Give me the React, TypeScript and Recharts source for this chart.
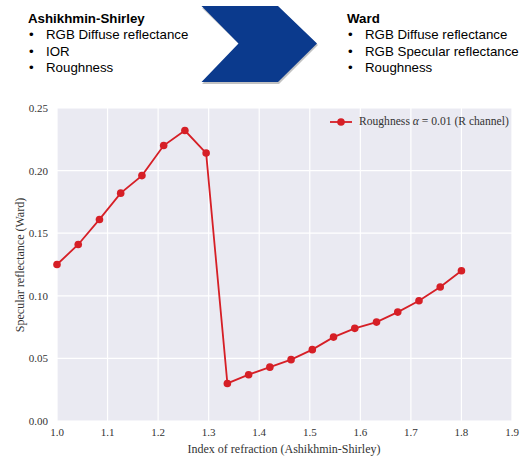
import { LineChart, Line, XAxis, YAxis, CartesianGrid, Label } from 'recharts';

const ior = [
	1.0, 1.042, 1.084, 1.126, 1.168, 1.211, 1.253, 1.295, 1.337, 1.379,
	1.421, 1.463, 1.505, 1.547, 1.589, 1.632, 1.674, 1.716, 1.758, 1.8,
];
const specular = [
	0.125, 0.141, 0.161, 0.182, 0.196, 0.22, 0.232, 0.214, 0.03, 0.037,
	0.043, 0.049, 0.057, 0.067, 0.074, 0.079, 0.087, 0.096, 0.107, 0.12,
];
const xTicks = [1.0, 1.1, 1.2, 1.3, 1.4, 1.5, 1.6, 1.7, 1.8, 1.9];
const yTicks = [0, 0.05, 0.1, 0.15, 0.2, 0.25];

const leftTitle = 'Ashikhmin-Shirley';
const leftItems = ['RGB Diffuse reflectance', 'IOR', 'Roughness'];
const rightTitle = 'Ward';
const rightItems = ['RGB Diffuse reflectance', 'RGB Specular reflectance', 'Roughness'];

const RED = '#d61f26';
const SERIF = '"Liberation Serif", serif';
const SANS = '"Liberation Sans", Arial, sans-serif';

const data = ior.map((x, i) => ({ x, y: specular[i] }));

function TextBlock({ left, title, items }: { left: number; title: string; items: string[] }) {
	const lineH = 16.3;
	return (
		<div style={{ position: 'absolute', left, top: 11, fontFamily: SANS, fontSize: 13.3, lineHeight: `${lineH}px`, color: '#000' }}>
			<div style={{ fontWeight: 'bold' }}>{title}</div>
			{items.map((t) => (
				<div key={t} style={{ position: 'relative', paddingLeft: 18 }}>
					<span style={{ position: 'absolute', left: 1 }}>•</span>
					{t}
				</div>
			))}
		</div>
	);
}

function LegendBox() {
	return (
		<div
			style={{
				position: 'absolute',
				left: 329,
				top: 115,
				display: 'flex',
				alignItems: 'center',
				fontFamily: SERIF,
				fontSize: 11.6,
				color: '#333',
				whiteSpace: 'nowrap',
			}}
		>
			<svg width={24} height={10} style={{ marginRight: 6 }}>
				<line x1={1} y1={5} x2={23} y2={5} stroke={RED} strokeWidth={1.8} />
				<circle cx={12} cy={5} r={3.8} fill={RED} />
			</svg>
			<span>
				Roughness <i>α</i> = 0.01 (R channel)
			</span>
		</div>
	);
}

export default function App() {
	return (
		<div style={{ position: 'absolute', left: 0, top: 0, width: 521, height: 459, background: '#fff' }}>
			<TextBlock left={28} title={leftTitle} items={leftItems} />
			<TextBlock left={347} title={rightTitle} items={rightItems} />
			<svg width={521} height={90} style={{ position: 'absolute', left: 0, top: 0 }}>
				<polygon points="202,8 279,8 318,45 279,84 202,84 240,45" fill="#9a9a9a" opacity={0.6} />
				<polygon points="201.5,6 278,6 317,43.5 278,82 201.5,82 238.5,43.5" fill="#0b3a8d" />
			</svg>
			<div style={{ position: 'absolute', left: 0, top: 0 }}>
				<LineChart width={521} height={459} data={data} margin={{ top: 108, right: 9, bottom: 0, left: 0 }}>
					<CartesianGrid fill="#eaeaf2" stroke="#ffffff" strokeWidth={1.2} />
					<XAxis
						dataKey="x"
						type="number"
						domain={[1.0, 1.9]}
						ticks={xTicks}
						tickFormatter={(v: number) => v.toFixed(1)}
						axisLine={false}
						tickLine={false}
						tickSize={0}
						tickMargin={7}
						height={38}
						tick={{ fill: '#333', fontSize: 11, fontFamily: SERIF }}
					>
						<Label
							content={() => (
								<text x={284} y={453} textAnchor="middle" fill="#333" fontSize={12} fontFamily={SERIF}>
									Index of refraction (Ashikhmin-Shirley)
								</text>
							)}
						/>
					</XAxis>
					<YAxis
						type="number"
						domain={[0, 0.25]}
						ticks={yTicks}
						tickFormatter={(v: number) => v.toFixed(2)}
						axisLine={false}
						tickLine={false}
						tickSize={0}
						tickMargin={9}
						width={57}
						tick={{ fill: '#333', fontSize: 11, fontFamily: SERIF }}
					>
						<Label
							content={() => (
								<text
									x={20}
									y={265}
									textAnchor="middle"
									dominantBaseline="central"
									transform="rotate(-90 20 265)"
									fill="#333"
									fontSize={12}
									fontFamily={SERIF}
								>
									Specular reflectance (Ward)
								</text>
							)}
						/>
					</YAxis>
					<Line
						type="linear"
						dataKey="y"
						stroke={RED}
						strokeWidth={1.8}
						dot={{ r: 3.8, fill: RED, stroke: RED, strokeWidth: 0 }}
						activeDot={false}
						isAnimationActive={false}
					/>
				</LineChart>
			</div>
			<LegendBox />
		</div>
	);
}
